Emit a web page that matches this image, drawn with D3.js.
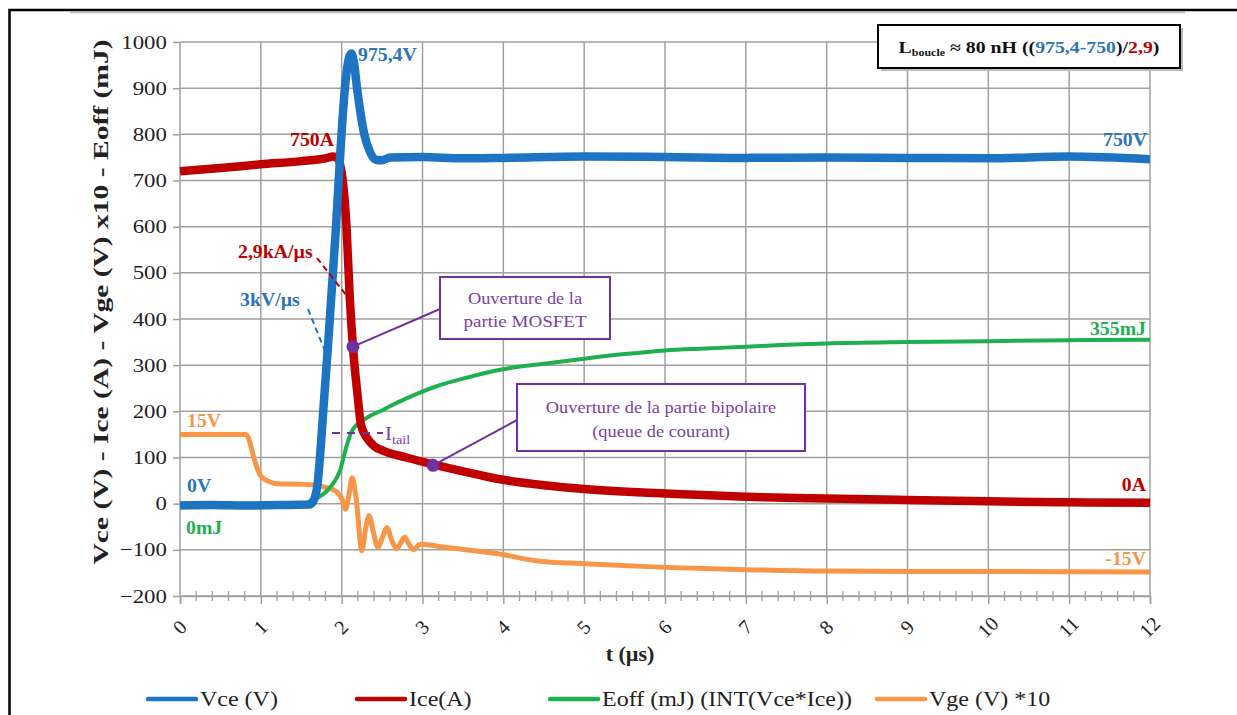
<!DOCTYPE html>
<html><head><meta charset="utf-8">
<script src="https://cdn.jsdelivr.net/npm/d3@7"></script>
<style>
html,body{margin:0;padding:0;background:#fff;}
svg{display:block;}
svg text{font-family:"Liberation Serif","Times New Roman",serif !important;}
</style></head>
<body>
<svg id="c" width="1237" height="715"></svg>
<script>
// ---------- data ----------
const tTicks = [0,1,2,3,4,5,6,7,8,9,10,11,12];
const yTicks = [-200,-100,0,100,200,300,400,500,600,700,800,900,1000];
const seriesNames = ["Vce (V)", "Ice(A)", "Eoff (mJ) (INT(Vce*Ice))", "Vge (V) *10"];

const vce = [[0,-4],[0.4,-3],[0.8,-4],[1.2,-3],[1.6,-2],[1.65,6],[1.7,40],[1.74,120],[1.78,220],[1.83,340],
  [1.88,470],[1.93,600],[1.98,750],[2.04,900],[2.09,965],[2.12,975],[2.15,958],[2.19,900],[2.28,800],[2.35,762],
  [2.42,745],[2.5,744],[2.6,750],[3,751],[3.5,748],[4,749],[5,752],[6,751],[7,749],[8,750],[9,749],[10,748],[11,752],[12,746]];

const ice = [[0,720],[0.5,727],[1,735],[1.5,742],[1.8,748],[1.9,752],[1.95,748],[1.98,735],[2.02,690],[2.06,600],
  [2.10,447],[2.14,338],[2.2,230],[2.23,180],[2.27,155],[2.31,143],[2.4,125],[2.51,115],[2.8,100],[3.13,85],
  [3.5,70],[3.92,54],[4.5,40],[5,32],[6,22],[7,15],[8,11],[9,8],[10,5],[11,3],[12,2]];

const eoff = [[0,0],[1.5,0],[1.65,8],[1.75,18],[1.82,28],[1.9,45],[1.98,72],[2.03,105],[2.07,130],[2.12,155],
  [2.17,168],[2.23,177],[2.35,190],[2.51,203],[2.7,220],[2.93,238],[3.2,256],[3.55,273],[3.96,290],[4.5,303],
  [5,314],[5.5,324],[6,332],[6.5,336],[7,340],[7.5,344],[8,347],[9,350],[10,352],[11,354],[12,355]];

const vge = [[0,150],[0.82,150],[0.86,135],[0.92,95],[1.0,60],[1.1,48],[1.2,43],[1.5,42],[1.7,40],[1.8,35],
  [1.9,30],[2.0,12],[2.05,-12],[2.09,20],[2.13,56],[2.18,10],[2.25,-102],[2.3,-50],[2.34,-26],[2.39,-60],
  [2.45,-95],[2.5,-75],[2.56,-52],[2.62,-80],[2.68,-98],[2.73,-85],[2.78,-73],[2.84,-90],[2.89,-100],[2.97,-88],
  [3.3,-95],[3.92,-108],[4.42,-124],[5,-130],[6,-138],[7,-143],[8,-146],[10,-147],[12,-148]];

const markers = [[2.14,340],[3.13,83]];   // purple dots on Ice
// ---------- styles ----------
const C = {vce:"#1c74c2", ice:"#c00000", eoff:"#1eb04e", vge:"#f79646", purple:"#7030a0", grid:"#a0a0a0"};
const SX = 1.2;
const SERIF = "'Liberation Serif','Times New Roman',serif";

const svg = d3.select("#c");
const x = d3.scaleLinear().domain([0,12]).range([180,1150]);
const y = d3.scaleLinear().domain([-200,1000]).range([596,42]);

// outer frame
svg.append("line").attr("x1",70).attr("x2",1185).attr("y1",12.5).attr("y2",12.5).attr("stroke","#bbb").attr("stroke-width",1.5);
svg.append("rect").attr("x",9.5).attr("y",10).attr("width",1240).attr("height",720)
  .attr("fill","none").attr("stroke","#000").attr("stroke-width",2.5);

// grid
const g = svg.append("g");
g.selectAll(".hg").data(yTicks).join("line")
  .attr("x1",x(0)).attr("x2",x(12)).attr("y1",d=>y(d)).attr("y2",d=>y(d))
  .attr("stroke",C.grid).attr("stroke-width",1.5);
g.selectAll(".vg").data(tTicks).join("line")
  .attr("x1",d=>x(d)).attr("x2",d=>x(d)).attr("y1",y(1000)).attr("y2",y(-200))
  .attr("stroke",C.grid).attr("stroke-width",1.5);

// y axis
const ya = svg.append("g").attr("transform",`translate(${x(0)},0)`)
  .call(d3.axisLeft(y).tickValues(yTicks).tickSize(7).tickPadding(4).tickFormat(d3.format("d")));
ya.attr("font-family",null);
ya.select(".domain").remove();
ya.selectAll(".tick line").attr("stroke",C.grid).attr("stroke-width",1.5);
ya.selectAll(".tick text").attr("font-size",19).attr("fill","#222")
  .style("font-family",SERIF).attr("transform",`scale(${SX},1)`);

// x axis
const xa = svg.append("g").attr("transform",`translate(0,${y(-200)})`)
  .call(d3.axisBottom(x).tickValues(tTicks).tickSize(8).tickPadding(0).tickFormat(d3.format("d")));
xa.attr("font-family",null);
xa.select(".domain").attr("stroke",C.grid).attr("stroke-width",1.5);
xa.selectAll(".tick line").attr("stroke",C.grid).attr("stroke-width",1.5);
xa.selectAll(".tick text").attr("font-size",20).attr("fill","#222")
  .style("font-family",SERIF)
  .attr("y",0).attr("dy","0.35em").attr("text-anchor","middle")
  .attr("transform","translate(-1,31) rotate(-45)");
// minor ticks
const minor = d3.range(0,12.001,0.2).filter(v=>Math.abs(v-Math.round(v))>0.01);
svg.append("g").selectAll("line").data(minor).join("line")
  .attr("x1",d=>x(d)).attr("x2",d=>x(d)).attr("y1",y(-200)-5).attr("y2",y(-200)+5)
  .attr("stroke",C.grid).attr("stroke-width",1.3);

// helper for stretched text
function txt(px,py,str,o){
  return svg.append("text")
    .attr("transform",`translate(${px},${py}) scale(${o.sx||SX},1)`)
    .attr("text-anchor",o.anchor||"start")
    .attr("font-size",o.size||18).attr("font-weight",o.weight||"normal")
    .style("font-family",SERIF)
    .attr("fill",o.color||"#222").text(str);
}

// axis titles
txt(630,661,"t (µs)",{size:20,weight:"bold",anchor:"middle",sx:1.1,color:"#222"});
svg.append("text").attr("transform","translate(108,302) rotate(-90)")
  .attr("text-anchor","middle").attr("font-size",22).attr("font-weight","bold").attr("fill","#222")
  .style("font-family",SERIF)
  .attr("textLength",525).attr("lengthAdjust","spacingAndGlyphs")
  .text("Vce (V) - Ice (A) - Vge (V) x10 - Eoff (mJ)");

// series lines
const line = d3.line().x(d=>x(d[0])).y(d=>y(d[1])).curve(d3.curveMonotoneX);
const plot = svg.append("g");
plot.append("path").datum(vge).attr("d",line).attr("fill","none").attr("stroke",C.vge).attr("stroke-width",5).attr("stroke-linejoin","round");
plot.append("path").datum(eoff).attr("d",line).attr("fill","none").attr("stroke",C.eoff).attr("stroke-width",4).attr("stroke-linejoin","round");
plot.append("path").datum(ice).attr("d",line).attr("fill","none").attr("stroke",C.ice).attr("stroke-width",8.5).attr("stroke-linejoin","round");
plot.append("path").datum(vce).attr("d",line).attr("fill","none").attr("stroke",C.vce).attr("stroke-width",8.5).attr("stroke-linejoin","round");

// annotation leaders
svg.append("line").attr("x1",317).attr("y1",258).attr("x2",350).attr("y2",300)
  .attr("stroke",C.ice).attr("stroke-width",2).attr("stroke-dasharray","6,4");
svg.append("line").attr("x1",308).attr("y1",309).attr("x2",327).attr("y2",356)
  .attr("stroke",C.vce).attr("stroke-width",2).attr("stroke-dasharray","6,4");
svg.append("line").attr("x1",332).attr("y1",433).attr("x2",383).attr("y2",433)
  .attr("stroke",C.purple).attr("stroke-width",2).attr("stroke-dasharray","8,7");

// purple boxes + leaders
svg.append("line").attr("x1",x(markers[0][0])).attr("y1",y(markers[0][1])).attr("x2",440).attr("y2",309)
  .attr("stroke",C.purple).attr("stroke-width",2);
svg.append("line").attr("x1",x(markers[1][0])).attr("y1",y(markers[1][1])).attr("x2",517).attr("y2",420)
  .attr("stroke",C.purple).attr("stroke-width",2);
svg.append("rect").attr("x",440).attr("y",277).attr("width",170).attr("height",62)
  .attr("fill","#fff").attr("stroke",C.purple).attr("stroke-width",2);
svg.append("rect").attr("x",517).attr("y",384).attr("width",288).attr("height",67)
  .attr("fill","#fff").attr("stroke",C.purple).attr("stroke-width",2);
svg.selectAll(".mk").data(markers).join("circle")
  .attr("cx",d=>x(d[0])).attr("cy",d=>y(d[1])).attr("r",6.5).attr("fill",C.purple);
const pc = "#7a3fa8";
txt(525,304,"Ouverture de la",{size:17,anchor:"middle",color:pc,sx:1.08});
txt(525,327,"partie MOSFET",{size:17,anchor:"middle",color:pc,sx:1.12});
txt(661,413,"Ouverture de la partie bipolaire",{size:17,anchor:"middle",color:pc,sx:1.08});
txt(661,437,"(queue de courant)",{size:17,anchor:"middle",color:pc,sx:1.08});

// I_tail
const it = svg.append("text").attr("transform","translate(385,440) scale(1.1,1)")
  .attr("font-size",19).attr("fill",pc).style("font-family",SERIF);
it.append("tspan").text("I");
it.append("tspan").attr("font-size",13).attr("dy",4).text("tail");

// value labels
txt(358,61,"975,4V",{size:18,weight:"bold",color:"#2e75b6",sx:1.1});
txt(334,146,"750A",{size:18,weight:"bold",color:C.ice,anchor:"end",sx:1.1});
txt(1147,146,"750V",{size:18,weight:"bold",color:"#2e75b6",anchor:"end",sx:1.1});
txt(238,258,"2,9kA/µs",{size:18,weight:"bold",color:C.ice,sx:1.1});
txt(240,306,"3kV/µs",{size:18,weight:"bold",color:"#2e75b6",sx:1.1});
txt(187,427,"15V",{size:18,weight:"bold",color:C.vge,sx:1.1});
txt(187,492,"0V",{size:18,weight:"bold",color:"#2e75b6",sx:1.1});
txt(186,534,"0mJ",{size:18,weight:"bold",color:C.eoff,sx:1.1});
txt(1146,335,"355mJ",{size:18,weight:"bold",color:C.eoff,anchor:"end",sx:1.1});
txt(1146,491,"0A",{size:18,weight:"bold",color:C.ice,anchor:"end",sx:1.1});
txt(1146,565,"-15V",{size:18,weight:"bold",color:C.vge,anchor:"end",sx:1.1});

// L_boucle box
svg.append("rect").attr("x",881).attr("y",28).attr("width",302).attr("height",43).attr("fill","#bbb");
svg.append("rect").attr("x",878).attr("y",25).attr("width",302).attr("height",43)
  .attr("fill","#fff").attr("stroke","#000").attr("stroke-width",2);
const lb = svg.append("text").attr("transform","translate(1029,53) scale(1.2,1)")
  .attr("text-anchor","middle").attr("font-size",16.5).attr("font-weight","bold").attr("fill","#111")
  .style("font-family",SERIF);
lb.append("tspan").text("L");
lb.append("tspan").attr("font-size",10).attr("dy",3).text("boucle");
lb.append("tspan").attr("dy",-3).text(" ≈ 80 nH ((");
lb.append("tspan").attr("fill","#2e75b6").text("975,4-750");
lb.append("tspan").text(")/");
lb.append("tspan").attr("fill",C.ice).text("2,9");
lb.append("tspan").text(")");

// legend
const legX = [148,357,550,877];
const legCol = [C.vce,C.ice,C.eoff,C.vge];
const lg = svg.append("g");
seriesNames.forEach((n,i)=>{
  lg.append("line").attr("x1",legX[i]).attr("x2",legX[i]+48).attr("y1",699).attr("y2",699)
    .attr("stroke",legCol[i]).attr("stroke-width",4.5).attr("stroke-linecap","round");
  lg.append("text").attr("transform",`translate(${legX[i]+52},706) scale(1.2,1)`)
    .attr("font-size",20).attr("fill","#222").style("font-family",SERIF).text(n);
});
</script>
</body></html>
